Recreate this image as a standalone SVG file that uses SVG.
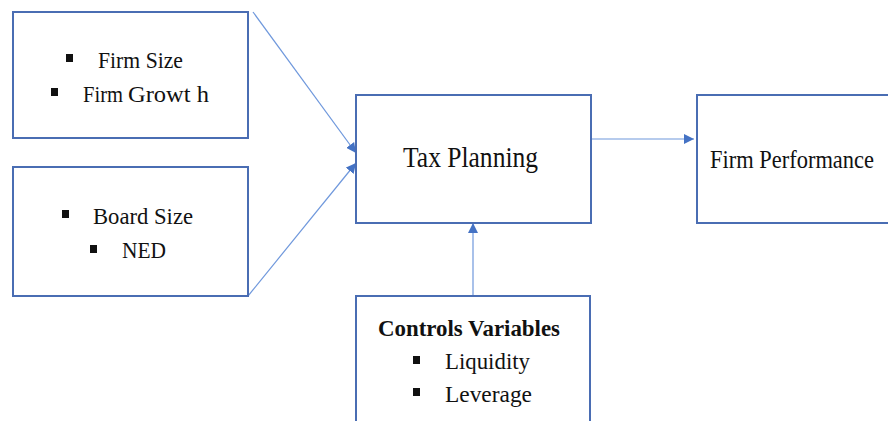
<svg xmlns="http://www.w3.org/2000/svg" width="888" height="421" viewBox="0 0 888 421">
<defs>
<style>
.box{fill:#fff;stroke:#4a6db3;stroke-width:2}
.conn{stroke:#6f98dc;stroke-width:1.2;fill:none}
text{font-family:'Liberation Serif','Times New Roman',Times,serif;fill:#111}
.b{fill:#111}
</style>
<marker id="ah" viewBox="0 0 10 10" refX="10" refY="5" markerWidth="10" markerHeight="10" markerUnits="userSpaceOnUse" orient="auto">
<path d="M0,0 L10,5 L0,10 Z" fill="#4472c4"/>
</marker>
</defs>
<rect width="888" height="421" fill="#fff"/>
<g id="connectors">
<line class="conn" x1="253" y1="12" x2="356" y2="153" marker-end="url(#ah)"/>
<line class="conn" x1="248" y1="296" x2="356" y2="163" marker-end="url(#ah)"/>
<line class="conn" x1="591" y1="139" x2="694" y2="139" marker-end="url(#ah)"/>
<line class="conn" x1="473" y1="296" x2="473" y2="223" marker-end="url(#ah)"/>
</g>
<g id="firm">
<rect class="box" x="13" y="12" width="235" height="126"/>
<rect class="b" x="66" y="54" width="7" height="8"/>
<text x="98" y="68" font-size="23" textLength="85" lengthAdjust="spacingAndGlyphs">Firm Size</text>
<rect class="b" x="51" y="88" width="7" height="8"/>
<text y="102" font-size="24"><tspan x="83" textLength="40" lengthAdjust="spacingAndGlyphs">Firm</tspan><tspan x="128" textLength="81" lengthAdjust="spacingAndGlyphs">Growt h</tspan></text>
</g>
<g id="board">
<rect class="box" x="13" y="167" width="235" height="129"/>
<rect class="b" x="62" y="210" width="7" height="8"/>
<text x="93" y="224" font-size="24" textLength="100" lengthAdjust="spacingAndGlyphs">Board Size</text>
<rect class="b" x="90" y="245" width="7" height="8"/>
<text x="122" y="258" font-size="23" textLength="44" lengthAdjust="spacingAndGlyphs">NED</text>
</g>
<g id="tax">
<rect class="box" x="356" y="95" width="235" height="128"/>
<text x="403" y="167" font-size="30" textLength="135" lengthAdjust="spacingAndGlyphs">Tax Planning</text>
</g>
<g id="performance">
<rect class="box" x="697" y="95" width="200" height="128"/>
<text x="710" y="168" font-size="26" textLength="164" lengthAdjust="spacingAndGlyphs">Firm Performance</text>
</g>
<g id="controls">
<rect class="box" x="356" y="296" width="234" height="140"/>
<text x="378" y="336" font-size="24" font-weight="bold" textLength="182" lengthAdjust="spacingAndGlyphs">Controls Variables</text>
<rect class="b" x="413" y="356" width="7" height="8"/>
<text x="445" y="369" font-size="24" textLength="85" lengthAdjust="spacingAndGlyphs">Liquidity</text>
<rect class="b" x="413" y="388" width="7" height="8"/>
<text x="445" y="402" font-size="24" textLength="87" lengthAdjust="spacingAndGlyphs">Leverage</text>
</g>
</svg>
